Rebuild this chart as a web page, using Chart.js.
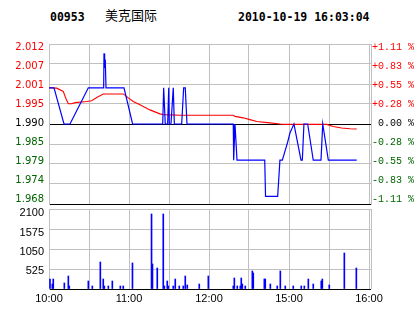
<!DOCTYPE html>
<html><head><meta charset="utf-8">
<script src="https://cdn.jsdelivr.net/npm/chart.js@4.4.0/dist/chart.umd.min.js"></script>
<style>
html,body{margin:0;padding:0;background:#fff;width:414px;height:314px;overflow:hidden;position:relative}
#c1{position:absolute;left:0;top:0;width:414px;height:230px}
#c2{position:absolute;left:0;top:190px;width:414px;height:124px}
.t{position:absolute;top:9px;font-family:"DejaVu Sans Mono";font-weight:bold;font-size:11.5px;line-height:16px;color:#000;white-space:nowrap}
.cn{position:absolute;top:7px;left:105px;font-family:"Noto Sans CJK SC";font-size:13px;line-height:16px;color:#000;white-space:nowrap}
</style></head><body>
<div class="t" style="left:50px">00953</div>
<div class="cn">美克国际</div>
<div class="t" style="left:238px">2010-10-19 16:03:04</div>
<canvas id="c1" width="414" height="230"></canvas>
<canvas id="c2" width="414" height="124"></canvas>
<script>
// ---- data ----
const prevClose = 1.990;
const pctRange = 1.11;
const leftTickLabels = ['2.012','2.007','2.001','1.995','1.990','1.985','1.979','1.974','1.968'];
const rightTickLabels = ['+1.11 %','+0.83 %','+0.55 %','+0.28 %','0.00 %','-0.28 %','-0.55 %','-0.83 %','-1.11 %'];
const timeTickMinutes = [0, 60, 120, 180, 240];
const timeTickLabels = ['10:00','11:00','12:00','15:00','16:00'];
const gridMinutes = [0, 30, 60, 90, 120, 150, 180, 210, 240, 241.5];
const sessionEnd = 241.5;
const volTickValues = [0, 525, 1050, 1575, 2100];
const volTickLabels = ['', '525', '1050', '1575', '2100'];

const priceMinutes = [0, 3.75, 11.25, 15.75, 29.5, 41, 41.25, 41.75, 42.2, 42.75, 56.25, 62.7, 85.3, 86, 87.2, 89, 89.8, 90.2, 91.5, 93.2, 94, 99.5, 101, 102.2, 103.5, 138.2, 138.5, 139.5, 140, 141, 161.8, 162.4, 171.5, 173.2, 175, 177, 179, 180.7, 182.5, 183.7, 189, 190, 191.2, 194, 198.2, 204, 205.3, 209.5, 230.8];
const priceValues = [2.00, 2.00, 1.99, 1.99, 2.00, 2.00, 2.0095, 2.0055, 2.0078, 2.00, 2.00, 1.99, 1.99, 2.00, 1.99, 1.99, 2.00, 1.99, 1.99, 2.00, 1.99, 1.99, 2.00, 2.00, 1.99, 1.99, 1.98, 1.99, 1.99, 1.98, 1.98, 1.97, 1.97, 1.98, 1.98, 1.9825, 1.985, 1.9875, 1.989, 1.99, 1.98, 1.98, 1.99, 1.99, 1.98, 1.98, 1.99, 1.98, 1.98];

const avgMinutes = [0, 5.8, 10.7, 12.5, 14.5, 17, 19.5, 28.3, 32, 35.8, 40.7, 55.7, 59.5, 63.2, 68.2, 75.7, 83.2, 85.7, 98.2, 138.2, 139.5, 145.7, 150.7, 155.8, 165.7, 173.2, 177, 208.3, 213.2, 219.5, 225.7, 230.8];
const avgValues = [2.0000, 1.9999, 1.9990, 1.9972, 1.9956, 1.9956, 1.9959, 1.9962, 1.9964, 1.9973, 1.9983, 1.9983, 1.9972, 1.9962, 1.9953, 1.9939, 1.9928, 1.9926, 1.9924, 1.9924, 1.9921, 1.9917, 1.9912, 1.9907, 1.9903, 1.9900, 1.9899, 1.9899, 1.9893, 1.9889, 1.9887, 1.9886];

const volMinutes = [0.75, 2.5, 3.2, 11.5, 14.5, 15.2, 29.5, 32.5, 38.5, 40.7, 41.5, 44.5, 47.5, 53.5, 55.7, 62.6, 76.9, 77.6, 81.2, 85.7, 86.5, 88.7, 89.5, 93.2, 94.7, 97.7, 100.7, 102.2, 103.7, 112.7, 119.5, 138.2, 139, 141.2, 143.5, 144.2, 145, 147.2, 152.5, 153.2, 161.5, 162.2, 166, 171.2, 173.5, 177.2, 183.2, 189.2, 191.5, 194.5, 198.2, 204.2, 205, 210.2, 221.5, 230.5];
const volValues = [262, 131, 262, 158, 341, 79, 210, 79, 709, 262, 79, 79, 210, 79, 79, 683, 1969, 656, 551, 1969, 79, 210, 79, 79, 262, 79, 79, 341, 105, 131, 341, 79, 289, 79, 79, 289, 131, 79, 473, 420, 262, 262, 131, 79, 473, 79, 79, 79, 79, 262, 131, 210, 262, 105, 945, 551];

// ---- chart ----
const GRID = '#c0c0c0';
const RED = '#ff0000', GREEN = '#006400', BLACK = '#000000';
const yMin = prevClose * (1 - pctRange / 100);
const yMax = prevClose * (1 + pctRange / 100);
function evenTicks(a, b, n) { const t = []; for (let i = 0; i <= n; i++) t.push({ value: a + (b - a) * i / n }); return t; }
function tickColor(i) { return i > 4 ? RED : (i === 4 ? BLACK : GREEN); }
// label placement: labels are spread inside the plot box (index scale)
const LBL_MIN = -0.248, LBL_MAX = 8.195;
const VLBL_MIN = 0.083, VLBL_MAX = 4.221;
const idxTicks = (a, b) => { const t = []; for (let i = a; i <= b; i++) t.push({ value: i }); return t; };

const priceLine = priceMinutes.map((m, i) => ({ x: m, y: priceValues[i] }));
const avgLine = avgMinutes.map((m, i) => ({ x: m, y: avgValues[i] }));
const volBars = volMinutes.map((m, i) => ({ x: m, y: volValues[i] }));

new Chart(document.getElementById('c1'), {
  type: 'line',
  data: { datasets: [
    { data: priceLine, borderColor: '#0000ff', borderWidth: 1.2, pointRadius: 0, tension: 0, yAxisID: 'y' },
    { data: avgLine, borderColor: '#ff0000', borderWidth: 1.1, pointRadius: 0, tension: 0, yAxisID: 'y' }
  ] },
  options: {
    responsive: false, animation: false, events: [],
    layout: { padding: { top: 44, bottom: 26, left: 0, right: 0 } },
    plugins: { legend: { display: false }, tooltip: { enabled: false } },
    scales: {
      x: { type: 'linear', min: 0, max: sessionEnd,
        afterBuildTicks: s => { s.ticks = gridMinutes.map(v => ({ value: v })); },
        ticks: { display: false }, grid: { color: GRID, drawTicks: false }, border: { display: false },
        afterFit: s => { s.height = 0; } },
      y: { position: 'left', weight: 0, min: yMin, max: yMax,
        afterBuildTicks: s => { s.ticks = evenTicks(yMin, yMax, 8); },
        ticks: { display: false },
        grid: { color: c => (c.index === 0 || c.index === 4) ? BLACK : GRID, drawTicks: false },
        border: { color: GRID },
        afterFit: s => { s.width = 0; } },
      yl: { position: 'left', weight: 1, min: LBL_MIN, max: LBL_MAX,
        afterBuildTicks: s => { s.ticks = idxTicks(0, 8); },
        ticks: { autoSkip: false, callback: (v, i) => leftTickLabels[8 - i], color: c => tickColor(c.index),
          font: { family: 'DejaVu Sans', size: 10 }, padding: 5 },
        grid: { display: false, drawTicks: false }, border: { display: false },
        afterFit: s => { s.width = 49; } },
      y2: { position: 'right', min: LBL_MIN, max: LBL_MAX,
        afterBuildTicks: s => { s.ticks = idxTicks(0, 8); },
        ticks: { autoSkip: false, callback: (v, i) => rightTickLabels[8 - i], color: c => tickColor(c.index),
          font: { family: 'Liberation Mono', size: 10 }, crossAlign: 'far', padding: 0 },
        grid: { drawOnChartArea: false, drawTicks: false },
        border: { color: GRID },
        afterFit: s => { s.width = 43; } }
    }
  }
});

new Chart(document.getElementById('c2'), {
  type: 'bar',
  data: { datasets: [ { data: volBars, backgroundColor: '#0000ff', barThickness: 1, grouped: false } ] },
  options: {
    responsive: false, animation: false, events: [],
    layout: { padding: { top: 19, right: 43, left: 0, bottom: 0 } },
    plugins: { legend: { display: false }, tooltip: { enabled: false } },
    scales: {
      x: { type: 'linear', min: 0, max: sessionEnd, offset: false,
        afterBuildTicks: s => { s.ticks = gridMinutes.map(v => ({ value: v })); },
        ticks: { autoSkip: false, maxRotation: 0, color: BLACK, padding: 3,
          font: { family: 'Liberation Sans', size: 11 },
          callback: v => { const k = timeTickMinutes.indexOf(v); return k >= 0 ? timeTickLabels[k] : ''; } },
        grid: { color: GRID, drawTicks: false, offset: false }, border: { display: false },
        afterFit: s => { s.height = 25; } },
      y: { position: 'left', weight: 0, min: volTickValues[0], max: volTickValues[volTickValues.length - 1],
        afterBuildTicks: s => { s.ticks = volTickValues.map(v => ({ value: v })); },
        ticks: { display: false },
        grid: { color: c => c.index === 0 ? BLACK : GRID, drawTicks: false },
        border: { color: GRID },
        afterFit: s => { s.width = 0; } },
      yl: { position: 'left', weight: 1, min: VLBL_MIN, max: VLBL_MAX,
        afterBuildTicks: s => { s.ticks = idxTicks(1, 4); },
        ticks: { autoSkip: false, color: BLACK, padding: 5, font: { family: 'Liberation Sans', size: 11 },
          callback: v => volTickLabels[v] },
        grid: { display: false, drawTicks: false }, border: { display: false },
        afterFit: s => { s.width = 49; } }
    }
  }
});
</script>
</body></html>
